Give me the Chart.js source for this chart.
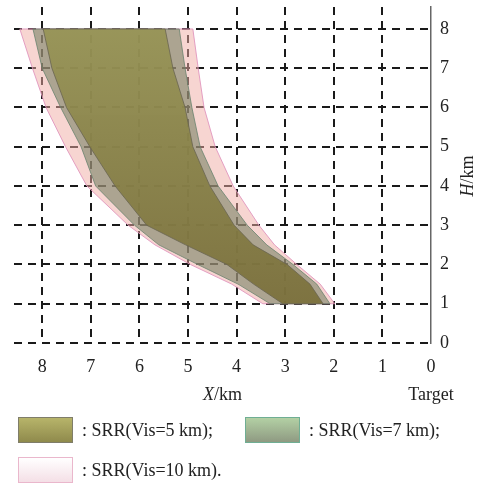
<!DOCTYPE html>
<html>
<head>
<meta charset="utf-8">
<script src="https://cdn.jsdelivr.net/npm/chart.js@4.4.0/dist/chart.umd.min.js"></script>
<style>
html, body { margin: 0; padding: 0; background: #fff; }
#wrap { position: relative; width: 478px; height: 484px; }
#c { display: block; }
.leg { position: absolute; display: flex; align-items: center; font: 18px "Liberation Serif", "Times New Roman", serif; color: #222; white-space: nowrap; }
.leg i { display: inline-block; width: 53px; height: 24px; margin-right: 9px; border: 1px solid; }
</style>
</head>
<body>
<div id="wrap">
  <canvas id="c" width="478" height="484"></canvas>
  <div class="leg" style="left:18px;top:417px"><i style="background:linear-gradient(#b7b46a,#8f8a4c);border-color:#7f7d6a"></i>: SRR(Vis=5 km);</div>
  <div class="leg" style="left:245px;top:417px"><i style="background:linear-gradient(#b3d0a4,#8f9a82);border-color:#6fae94"></i>: SRR(Vis=7 km);</div>
  <div class="leg" style="left:18px;top:457px"><i style="background:linear-gradient(#ffffff,#f4dfe6);border-color:#eab7cc"></i>: SRR(Vis=10 km).</div>
</div>
<script>
(function(){
    'use strict';

    // heights (km) and the far / near edge (km from target) of each region
    var heightKm = [1, 1.5, 2, 2.5, 3, 4, 5, 6, 7, 8];
    var vis5Far   = [3.05, 3.65, 4.2, 5.05, 5.85, 6.5, 7.02, 7.5, 7.8, 7.98];
    var vis5Near  = [2.22, 2.49, 2.96, 3.66, 4.05, 4.55, 4.9, 5.06, 5.31, 5.47];
    var vis7Far   = [3.31, 3.97, 4.8, 5.6, 6.1, 6.9, 7.2, 7.62, 8.0, 8.19];
    var vis7Near  = [2.08, 2.35, 2.84, 3.38, 3.78, 4.38, 4.75, 4.92, 5.06, 5.18];
    var vis10Far  = [3.46, 4.1, 4.95, 5.68, 6.23, 7.08, 7.52, 7.92, 8.2, 8.46];
    var vis10Near = [1.98, 2.28, 2.76, 3.22, 3.54, 4.07, 4.44, 4.67, 4.79, 4.9];
    var xTicks = [0, 1, 2, 3, 4, 5, 6, 7, 8];
    var yTicks = [0, 1, 2, 3, 4, 5, 6, 7, 8];

    var serif = '"Liberation Serif", "Times New Roman", serif';

    // closed outline: far edge going up, near edge coming back down
    function region(far, near){
        var pts = [];
        for (var i = 0; i < heightKm.length; i++) pts.push({x: far[i], y: heightKm[i]});
        for (var j = heightKm.length - 1; j >= 0; j--) pts.push({x: near[j], y: heightKm[j]});
        pts.push({x: far[0], y: heightKm[0]});
        return pts;
    }

    function grad(top, bottom){
        return function(c){
            var a = c.chart.chartArea;
            if (!a) return top;
            var g = c.chart.ctx.createLinearGradient(0, a.top, 0, a.bottom);
            g.addColorStop(0, top);
            g.addColorStop(1, bottom);
            return g;
        };
    }

    function mixed(ctx, it, rest, cx, y){
        ctx.font = 'italic 18px ' + serif;
        var w1 = ctx.measureText(it).width;
        ctx.font = '18px ' + serif;
        var w2 = ctx.measureText(rest).width;
        var x0 = cx - (w1 + w2) / 2;
        ctx.textAlign = 'left';
        ctx.font = 'italic 18px ' + serif;
        ctx.fillText(it, x0, y);
        ctx.font = '18px ' + serif;
        ctx.fillText(rest, x0 + w1, y);
    }

    var axisTitles = {
        id: 'axisTitles',
        afterDraw: function(chart){
            var c = chart.ctx, a = chart.chartArea, xs = chart.scales.x;
            c.save();
            c.fillStyle = '#222';
            c.textBaseline = 'alphabetic';
            mixed(c, 'X', '/km', (a.left + a.right) / 2, 400);
            c.font = '18px ' + serif;
            c.textAlign = 'center';
            c.fillText('Target', xs.getPixelForValue(0), 400);
            c.translate(473, (a.top + a.bottom) / 2 + 1);
            c.rotate(-Math.PI / 2);
            mixed(c, 'H', '/km', 0, 0);
            c.restore();
        }
    };

    var dash = [8, 6];

    new Chart(document.getElementById('c'), {
        type: 'line',
        data: {
            datasets: [{
                label: 'SRR(Vis=5 km)',
                data: region(vis5Far, vis5Near),
                fill: 'shape',
                backgroundColor: grad('rgba(152,150,84,0.88)', 'rgba(116,104,52,0.9)'),
                borderColor: 'rgba(105,100,80,0.8)',
                borderWidth: 1
            }, {
                label: 'SRR(Vis=7 km)',
                data: region(vis7Far, vis7Near),
                fill: 'shape',
                backgroundColor: 'rgba(112,126,92,0.55)',
                borderColor: 'rgba(105,130,110,0.8)',
                borderWidth: 1
            }, {
                label: 'SRR(Vis=10 km)',
                data: region(vis10Far, vis10Near),
                fill: 'shape',
                backgroundColor: 'rgba(239,172,164,0.5)',
                borderColor: 'rgba(225,150,190,0.9)',
                borderWidth: 1
            }]
        },
        options: {
            responsive: false,
            animation: false,
            layout: { padding: { left: 14, top: 7, right: 29, bottom: 108 } },
            elements: { point: { radius: 0 }, line: { tension: 0 } },
            plugins: { legend: { display: false }, tooltip: { enabled: false } },
            scales: {
                x: {
                    type: 'linear',
                    reverse: true,
                    min: 0,
                    max: 8.58,
                    afterBuildTicks: function(s){ s.ticks = xTicks.map(function(v){ return {value: v}; }); },
                    afterFit: function(s){ s.height = 33; s.paddingLeft = 0; s.paddingRight = 0; },
                    grid: {
                        color: function(c){ return c.tick && c.tick.value === 0 ? 'rgba(0,0,0,0)' : '#1a1a1a'; },
                        lineWidth: 2,
                        drawTicks: false
                    },
                    border: { display: false, dash: dash },
                    ticks: { padding: 13, color: '#222', font: { family: serif, size: 18 }, maxRotation: 0 }
                },
                y: {
                    type: 'linear',
                    position: 'right',
                    min: 0,
                    max: 8.56,
                    afterBuildTicks: function(s){ s.ticks = yTicks.map(function(v){ return {value: v}; }); },
                    afterFit: function(s){ s.width = 18; s.paddingTop = 0; s.paddingBottom = 0; },
                    grid: { color: '#1a1a1a', lineWidth: 2, drawTicks: false },
                    border: { display: true, color: '#666', width: 1.5, dash: dash },
                    ticks: { padding: 9, color: '#222', font: { family: serif, size: 18 } }
                }
            }
        },
        plugins: [axisTitles]
    });
}());
</script>
</body>
</html>
